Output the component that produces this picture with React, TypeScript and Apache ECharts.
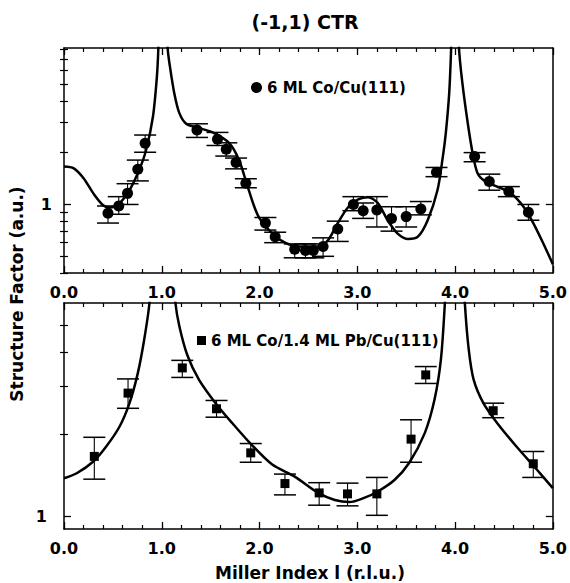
import React, { useEffect, useRef } from "react";
import * as echarts from "echarts";

// ---- shared axis text ----
const xTickLabels = ["0.0", "1.0", "2.0", "3.0", "4.0", "5.0"];
const yMajorTicks = [1];
const topMinorTicks = [0.4, 0.5, 0.6, 0.7, 0.8, 0.9, 2, 3, 4, 5, 6, 7, 8];
const botMinorTicks = [2, 3, 4, 5];

const titleText = "(-1,1) CTR";
const xName = "Miller Index l (r.l.u.)";
const yName = "Structure Factor (a.u.)";
const topName = "6 ML Co/Cu(111)";
const botName = "6 ML Co/1.4 ML Pb/Cu(111)";

// ---- top panel: 6 ML Co/Cu(111) ----
const topL = [0.45, 0.56, 0.65, 0.755, 0.83, 1.36, 1.57, 1.66, 1.76, 1.86, 2.06, 2.16, 2.36, 2.47, 2.55, 2.65, 2.8, 2.96, 3.06, 3.2, 3.35, 3.5, 3.65, 3.81, 4.2, 4.35, 4.55, 4.75];
const topV = [0.89, 0.98, 1.16, 1.6, 2.27, 2.71, 2.39, 2.09, 1.75, 1.33, 0.78, 0.65, 0.55, 0.54, 0.54, 0.57, 0.72, 1.0, 0.92, 0.93, 0.83, 0.85, 0.94, 1.54, 1.9, 1.36, 1.19, 0.9];
const topLo = [0.78, 0.877, 1.0, 1.37, 2.01, 2.45, 2.2, 1.91, 1.61, 1.25, 0.71, 0.6, 0.49, 0.49, 0.49, 0.5, 0.61, 0.92, 0.83, 0.74, 0.7, 0.74, 0.87, 1.45, 1.77, 1.21, 1.11, 0.81];
const topHi = [0.98, 1.11, 1.32, 1.81, 2.53, 2.94, 2.62, 2.28, 1.86, 1.41, 0.84, 0.69, 0.59, 0.59, 0.59, 0.64, 0.8, 1.11, 1.02, 1.11, 0.97, 0.97, 1.04, 1.64, 2.0, 1.5, 1.27, 1.0];

const topCurveL = [0, 0.1, 0.2, 0.3, 0.4, 0.47, 0.57, 0.67, 0.77, 0.84, 0.91, 0.95, 0.965, 0.985, 1.035, 1.06, 1.084, 1.128, 1.18, 1.25, 1.35, 1.52, 1.69, 1.79, 1.89, 1.99, 2.13, 2.26, 2.4, 2.6, 2.7, 2.8, 2.91, 3.01, 3.11, 3.21, 3.31, 3.41, 3.52, 3.62, 3.72, 3.82, 3.87, 3.905, 3.94, 3.96, 3.98, 4.02, 4.04, 4.075, 4.13, 4.18, 4.23, 4.31, 4.43, 4.57, 4.7, 4.8, 4.905, 5.0];
const topCurveV = [1.66, 1.62, 1.42, 1.16, 0.99, 0.96, 1.02, 1.21, 1.59, 2.07, 3.24, 5.5, 8.1, 20, 20, 8.1, 6.3, 4.43, 3.39, 2.94, 2.81, 2.62, 2.27, 1.81, 1.21, 0.85, 0.68, 0.6, 0.57, 0.57, 0.62, 0.78, 0.97, 1.07, 1.1, 1.02, 0.81, 0.68, 0.63, 0.65, 0.81, 1.21, 1.81, 2.59, 4.43, 8.1, 20, 20, 8.1, 5.06, 2.96, 1.98, 1.52, 1.36, 1.27, 1.16, 0.97, 0.78, 0.59, 0.45];

// ---- bottom panel: 6 ML Co/1.4 ML Pb/Cu(111) ----
const botL = [0.31, 0.655, 1.21, 1.56, 1.91, 2.26, 2.61, 2.9, 3.2, 3.55, 3.7, 4.39, 4.8];
const botV = [1.66, 2.83, 3.5, 2.48, 1.71, 1.32, 1.22, 1.21, 1.21, 1.92, 3.3, 2.44, 1.56];
const botLo = [1.37, 2.49, 3.23, 2.31, 1.58, 1.2, 1.1, 1.094, 1.01, 1.58, 3.07, 2.3, 1.39];
const botHi = [1.95, 3.19, 3.73, 2.66, 1.85, 1.43, 1.33, 1.325, 1.39, 2.26, 3.54, 2.6, 1.73];

const botCurveL = [0, 0.13, 0.3, 0.43, 0.57, 0.67, 0.755, 0.82, 0.874, 0.9, 1.11, 1.14, 1.18, 1.26, 1.38, 1.55, 1.72, 1.92, 2.13, 2.36, 2.6, 2.77, 2.92, 3.07, 3.21, 3.38, 3.53, 3.69, 3.79, 3.855, 3.896, 3.92, 4.08, 4.1, 4.14, 4.19, 4.29, 4.43, 4.63, 4.84, 5.0];
const botCurveV = [1.38, 1.44, 1.59, 1.8, 2.14, 2.6, 3.35, 4.44, 6.05, 9, 9, 6.05, 4.97, 3.91, 3.17, 2.6, 2.2, 1.83, 1.55, 1.4, 1.22, 1.15, 1.13, 1.17, 1.235, 1.36, 1.57, 2.02, 2.68, 3.75, 6.05, 9, 9, 6.05, 4.08, 3.17, 2.6, 2.2, 1.8, 1.48, 1.27];

const FONT = '"DejaVu Sans", sans-serif';
const BLACK = "#000";

function makeErrRender(capHalf: number) {
  return (params: any, api: any) => {
    const x = api.value(0);
    const lo = api.value(1);
    const hi = api.value(2);
    const pLo = api.coord([x, lo]);
    const pHi = api.coord([x, hi]);
    return {
      type: "group",
      children: [
        { type: "line", shape: { x1: pLo[0], y1: pLo[1], x2: pHi[0], y2: pHi[1] }, style: { stroke: BLACK, lineWidth: 1.1 } },
        { type: "line", shape: { x1: pHi[0] - capHalf, y1: pHi[1], x2: pHi[0] + capHalf, y2: pHi[1] }, style: { stroke: BLACK, lineWidth: 1.5 } },
        { type: "line", shape: { x1: pLo[0] - capHalf, y1: pLo[1], x2: pLo[0] + capHalf, y2: pLo[1] }, style: { stroke: BLACK, lineWidth: 1.5 } },
      ],
    };
  };
}

function xAxes(grid: number, withLabels: boolean) {
  const base = (position: string, labels: boolean) => ({
    gridIndex: grid,
    type: "value",
    position,
    min: 0,
    max: 5,
    interval: 1,
    axisLine: { show: true, onZero: false, lineStyle: { color: BLACK, width: 1.5 } },
    axisTick: { show: true, inside: true, length: 7, lineStyle: { color: BLACK, width: 1.3 } },
    minorTick: { show: true, splitNumber: 5, length: 4, lineStyle: { color: BLACK, width: 1.2 } },
    splitLine: { show: false },
    axisLabel: {
      show: labels,
      margin: 11,
      color: BLACK,
      fontFamily: FONT,
      fontWeight: "bold",
      fontSize: 16,
      formatter: (v: number) => xTickLabels[Math.round(v)] ?? "",
    },
  });
  return [base("bottom", withLabels), base("top", false)];
}

function yAxes(grid: number, min: number, max: number, minors: number[], labelMargin: number) {
  const common = {
    gridIndex: grid,
    type: "log",
    logBase: 10,
    min,
    max,
    splitLine: { show: false },
    minorTick: { show: false },
  };
  const major = (position: string, labels: boolean) => ({
    ...common,
    position,
    axisLine: { show: true, onZero: false, lineStyle: { color: BLACK, width: 1.5 } },
    axisTick: { show: true, inside: true, length: 7, customValues: yMajorTicks, lineStyle: { color: BLACK, width: 1.3 } },
    axisLabel: {
      show: labels,
      customValues: yMajorTicks,
      margin: labelMargin,
      color: BLACK,
      fontFamily: FONT,
      fontWeight: "bold",
      fontSize: 16,
      formatter: (v: number) => String(v),
    },
  });
  const minor = (position: string) => ({
    ...common,
    position,
    axisLine: { show: false },
    axisTick: { show: true, inside: true, length: 4, customValues: minors, lineStyle: { color: BLACK, width: 1.2 } },
    axisLabel: { show: false },
  });
  return [major("left", true), minor("left"), major("right", false), minor("right")];
}

export default function App() {
  const ref = useRef<HTMLDivElement>(null);

  useEffect(() => {
    if (!ref.current) return;
    const chart = echarts.init(ref.current, undefined, { renderer: "svg" });

    const option: any = {
      animation: false,
      backgroundColor: "#fff",
      grid: [
        { left: 64, top: 48, width: 492, height: 225 },
        { left: 64, top: 303, width: 492, height: 226 },
      ],
      xAxis: [...xAxes(0, true), ...xAxes(1, true)],
      yAxis: [...yAxes(0, 0.4, 8.1, topMinorTicks, 12), ...yAxes(1, 0.9, 6.05, botMinorTicks, 17)],
      legend: [
        {
          data: [{ name: topName, icon: "circle" }],
          left: 251,
          top: 80,
          padding: 0,
          itemWidth: 11,
          itemHeight: 11,
          selectedMode: false,
          textStyle: { color: BLACK, fontFamily: FONT, fontWeight: "bold", fontSize: 15 },
        },
        {
          data: [{ name: botName, icon: "rect" }],
          left: 197,
          top: 333,
          padding: 0,
          itemWidth: 9,
          itemHeight: 9,
          selectedMode: false,
          textStyle: { color: BLACK, fontFamily: FONT, fontWeight: "bold", fontSize: 15 },
        },
      ],
      graphic: [
        {
          type: "text",
          x: 305,
          y: 22,
          style: { text: titleText, align: "center", verticalAlign: "middle", fill: BLACK, font: `bold 19px ${FONT}` },
        },
        {
          type: "text",
          x: 310,
          y: 573,
          style: { text: xName, align: "center", verticalAlign: "middle", fill: BLACK, font: `bold 17px ${FONT}` },
        },
        {
          type: "text",
          x: 17,
          y: 294,
          rotation: Math.PI / 2,
          style: { text: yName, align: "center", verticalAlign: "middle", fill: BLACK, font: `bold 17px ${FONT}` },
        },
      ],
      series: [
        {
          type: "line",
          name: "top fit",
          xAxisIndex: 0,
          yAxisIndex: 0,
          data: topCurveL.map((l, i) => [l, topCurveV[i]]),
          showSymbol: false,
          smooth: 0.3,
          clip: true,
          lineStyle: { color: BLACK, width: 2.5 },
          z: 3,
        },
        {
          type: "custom",
          name: "top err",
          xAxisIndex: 0,
          yAxisIndex: 0,
          renderItem: makeErrRender(11),
          data: topL.map((l, i) => [l, topLo[i], topHi[i]]),
          encode: { x: 0, y: [1, 2] },
          z: 2,
        },
        {
          type: "scatter",
          name: topName,
          xAxisIndex: 0,
          yAxisIndex: 0,
          data: topL.map((l, i) => [l, topV[i]]),
          symbol: "circle",
          symbolSize: 11,
          itemStyle: { color: BLACK, opacity: 1 },
          z: 4,
        },
        {
          type: "line",
          name: "bottom fit",
          xAxisIndex: 2,
          yAxisIndex: 4,
          data: botCurveL.map((l, i) => [l, botCurveV[i]]),
          showSymbol: false,
          smooth: 0.3,
          clip: true,
          lineStyle: { color: BLACK, width: 2.5 },
          z: 3,
        },
        {
          type: "custom",
          name: "bottom err",
          xAxisIndex: 2,
          yAxisIndex: 4,
          renderItem: makeErrRender(11),
          data: botL.map((l, i) => [l, botLo[i], botHi[i]]),
          encode: { x: 0, y: [1, 2] },
          z: 2,
        },
        {
          type: "scatter",
          name: botName,
          xAxisIndex: 2,
          yAxisIndex: 4,
          data: botL.map((l, i) => [l, botV[i]]),
          symbol: "rect",
          symbolSize: 9,
          itemStyle: { color: BLACK, opacity: 1 },
          z: 4,
        },
      ],
    };

    chart.setOption(option);
    return () => chart.dispose();
  }, []);

  return <div ref={ref} style={{ position: "fixed", left: 0, top: 0, width: 570, height: 583, background: "#fff" }} />;
}
